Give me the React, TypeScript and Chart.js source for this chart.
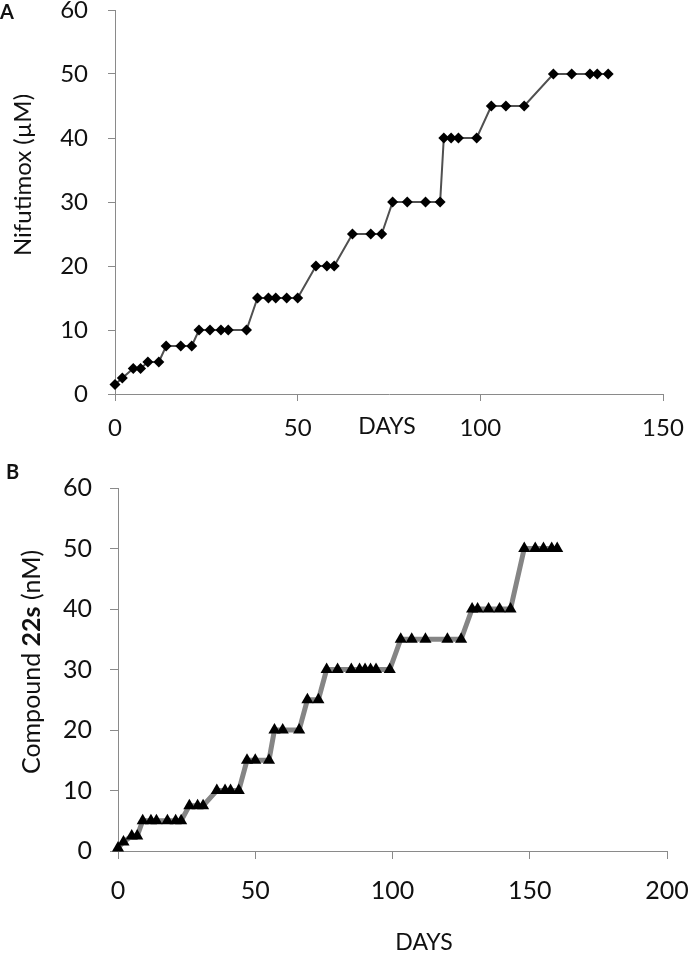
import React, { useEffect, useRef } from "react";
import { Chart, registerables } from "chart.js";

Chart.register(...registerables);

// ---------- Panel A: Nifutimox ----------
const daysA = [0, 2, 5, 7, 9, 12, 14, 18, 21, 23, 26, 29, 31, 36, 39, 42, 44, 47, 50, 55, 58, 60, 65, 70, 73, 76, 80, 85, 89, 90, 92, 94, 99, 103, 107, 112, 120, 125, 130, 132, 135];
const nifutimoxUM = [1.5, 2.5, 4, 4, 5, 5, 7.5, 7.5, 7.5, 10, 10, 10, 10, 10, 15, 15, 15, 15, 15, 20, 20, 20, 25, 25, 25, 30, 30, 30, 30, 40, 40, 40, 40, 45, 45, 45, 50, 50, 50, 50, 50];
const xTicksA = [0, 50, 100, 150];

// ---------- Panel B: Compound 22s ----------
const daysB = [0, 2, 5, 7, 9, 12, 14, 18, 21, 23, 26, 29, 31, 36, 39, 41, 44, 47, 50, 55, 57, 60, 66, 69, 73, 76, 80, 85, 88, 90, 92, 94, 99, 103, 107, 112, 120, 125, 129, 131, 135, 139, 143, 148, 152, 155, 158, 160];
const compound22sNM = [0.5, 1.5, 2.5, 2.5, 5, 5, 5, 5, 5, 5, 7.5, 7.5, 7.5, 10, 10, 10, 10, 15, 15, 15, 20, 20, 20, 25, 25, 30, 30, 30, 30, 30, 30, 30, 30, 35, 35, 35, 35, 35, 40, 40, 40, 40, 40, 50, 50, 50, 50, 50];
const xTicksB = [0, 50, 100, 150, 200];

const yTicks = [0, 10, 20, 30, 40, 50, 60];

const FONT = "Lato";
const TEXT = "#111";
const AXIS = "#8a8a8a";

type Seg = { text: string; bold?: boolean };
type Label = { segs: Seg[]; x: number; y: number; size: number; rotate?: boolean; align?: "left" | "center" };

function textPlugin(labels: Label[]) {
  return {
    id: "panelText",
    afterDraw(chart: any) {
      const ctx = chart.ctx as CanvasRenderingContext2D;
      for (const lab of labels) {
        ctx.save();
        ctx.fillStyle = TEXT;
        ctx.textBaseline = "middle";
        ctx.textAlign = "left";
        ctx.translate(lab.x, lab.y);
        if (lab.rotate) ctx.rotate(-Math.PI / 2);
        const fonts = lab.segs.map((s) => `${s.bold ? "bold " : ""}${lab.size}px ${FONT}`);
        const widths = lab.segs.map((s, i) => {
          ctx.font = fonts[i];
          return ctx.measureText(s.text).width;
        });
        const total = widths.reduce((a, b) => a + b, 0);
        let cx = lab.align === "left" ? 0 : -total / 2;
        lab.segs.forEach((s, i) => {
          ctx.font = fonts[i];
          ctx.fillText(s.text, cx, 0);
          cx += widths[i];
        });
        ctx.restore();
      }
    },
  };
}

type PanelSpec = {
  days: number[];
  values: number[];
  xTicks: number[];
  xMax: number;
  lineColor: string;
  lineWidth: number;
  pointStyle: string;
  pointRadius: number;
  tickSize: number;
  yAxisWidth: number;
  xAxisHeight: number;
  padding: { left: number; right: number; top: number; bottom: number };
  yTickPad: number;
  xTickPad: number;
  tickLen: number;
  labels: Label[];
};

function zeroPadding(scale: any) {
  scale.paddingTop = 0;
  scale.paddingBottom = 0;
  scale.paddingLeft = 0;
  scale.paddingRight = 0;
}

function buildConfig(p: PanelSpec): any {
  return {
    type: "line",
    data: {
      datasets: [
        {
          data: p.days.map((d, i) => ({ x: d, y: p.values[i] })),
          borderColor: p.lineColor,
          borderWidth: p.lineWidth,
          pointStyle: p.pointStyle,
          pointRadius: p.pointRadius,
          pointBackgroundColor: "#000",
          pointBorderColor: "#000",
          pointBorderWidth: 0,
          tension: 0,
          clip: false,
        },
      ],
    },
    options: {
      responsive: false,
      animation: false,
      events: [],
      layout: { padding: p.padding },
      plugins: { legend: { display: false }, tooltip: { enabled: false }, title: { display: false } },
      scales: {
        x: {
          type: "linear",
          min: 0,
          max: p.xMax,
          afterBuildTicks: (scale: any) => {
            scale.ticks = p.xTicks.map((v) => ({ value: v }));
          },
          afterFit: (scale: any) => {
            scale.height = p.xAxisHeight;
            zeroPadding(scale);
          },
          ticks: {
            autoSkip: false,
            maxRotation: 0,
            minRotation: 0,
            padding: p.xTickPad,
            color: TEXT,
            font: { family: FONT, size: p.tickSize, lineHeight: 1.2 },
          },
          grid: { display: true, drawOnChartArea: false, drawTicks: true, tickLength: p.tickLen, color: AXIS, lineWidth: 1 },
          border: { display: true, color: AXIS, width: 1 },
        },
        y: {
          type: "linear",
          min: 0,
          max: 60,
          afterBuildTicks: (scale: any) => {
            scale.ticks = yTicks.map((v) => ({ value: v }));
          },
          afterFit: (scale: any) => {
            scale.width = p.yAxisWidth;
            zeroPadding(scale);
          },
          ticks: {
            padding: p.yTickPad,
            color: TEXT,
            font: { family: FONT, size: p.tickSize, lineHeight: 0.8 },
          },
          grid: { display: true, drawOnChartArea: false, drawTicks: true, tickLength: p.tickLen, color: AXIS, lineWidth: 1 },
          border: { display: true, color: AXIS, width: 1 },
        },
      },
    },
    plugins: [textPlugin(p.labels)],
  };
}

const H_A = 450;
const H_B = 504;

const specA: PanelSpec = {
  days: daysA,
  values: nifutimoxUM,
  xTicks: xTicksA,
  xMax: 150,
  lineColor: "#505050",
  lineWidth: 2,
  pointStyle: "rectRot",
  pointRadius: 5.5,
  tickSize: 24,
  yAxisWidth: 115,
  xAxisHeight: H_A - 394,
  padding: { left: 0, right: 25, top: 10, bottom: 0 },
  yTickPad: 20,
  xTickPad: 13,
  tickLen: 7,
  labels: [
    { segs: [{ text: "A", bold: true }], x: 0, y: 13, size: 20, align: "left" },
    { segs: [{ text: "Nifutimox (µM)" }], x: 23, y: 175, size: 24, rotate: true },
    { segs: [{ text: "DAYS" }], x: 387, y: 427, size: 23 },
  ],
};

const specB: PanelSpec = {
  days: daysB,
  values: compound22sNM,
  xTicks: xTicksB,
  xMax: 200,
  lineColor: "#858585",
  lineWidth: 5,
  pointStyle: "triangle",
  pointRadius: 7,
  tickSize: 25,
  yAxisWidth: 118,
  xAxisHeight: H_B - 401,
  padding: { left: 0, right: 21, top: 38, bottom: 0 },
  yTickPad: 18,
  xTickPad: 17,
  tickLen: 8,
  labels: [
    { segs: [{ text: "B", bold: true }], x: 6, y: 23, size: 20, align: "left" },
    {
      segs: [{ text: "Compound " }, { text: "22s", bold: true }, { text: " (nM)" }],
      x: 32,
      y: 212,
      size: 25,
      rotate: true,
    },
    { segs: [{ text: "DAYS" }], x: 424, y: 493, size: 23 },
  ],
};

function Panel({ spec, top, height }: { spec: PanelSpec; top: number; height: number }) {
  const ref = useRef<HTMLCanvasElement | null>(null);
  useEffect(() => {
    if (!ref.current) return;
    const chart = new Chart(ref.current, buildConfig(spec));
    return () => chart.destroy();
  }, [spec]);
  return (
    <canvas
      ref={ref}
      width={688}
      height={height}
      style={{ position: "absolute", left: 0, top, width: 688, height, display: "block" }}
    />
  );
}

export default function App() {
  return (
    <div style={{ position: "absolute", left: 0, top: 0, width: 688, height: 954, background: "#fff", overflow: "hidden" }}>
      <Panel spec={specA} top={0} height={H_A} />
      <Panel spec={specB} top={H_A} height={H_B} />
    </div>
  );
}
